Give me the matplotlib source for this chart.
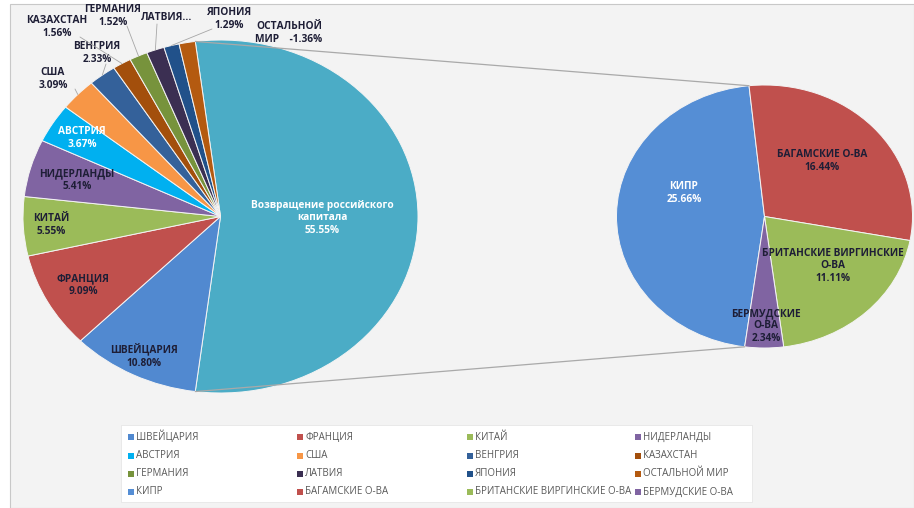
import numpy as np
import matplotlib
matplotlib.use("Agg")
import matplotlib.pyplot as plt
from matplotlib.patches import Rectangle, ConnectionPatch

plt.rcParams["font.family"] = ["Open Sans", "DejaVu Sans"]

# ---- data -------------------------------------------------------------
countries = ["ШВЕЙЦАРИЯ", "ФРАНЦИЯ", "КИТАЙ", "НИДЕРЛАНДЫ", "АВСТРИЯ", "США",
             "ВЕНГРИЯ", "КАЗАХСТАН", "ГЕРМАНИЯ", "ЛАТВИЯ", "ЯПОНИЯ",
             "ОСТАЛЬНОЙ МИР"]
country_shares = [10.80, 9.09, 5.55, 5.41, 3.67, 3.09,
                  2.33, 1.56, 1.52, 1.50, 1.29, -1.36]

offshore = ["КИПР", "БАГАМСКИЕ О-ВА", "БРИТАНСКИЕ ВИРГИНСКИЕ О-ВА",
            "БЕРМУДСКИЕ О-ВА"]
offshore_shares = [25.66, 16.44, 11.11, 2.34]

return_label = "Возвращение российского\nкапитала"
return_share = round(sum(offshore_shares), 2)

# ---- colours ----------------------------------------------------------
return_color = "#4BACC6"
country_colors = ["#5189D0", "#C0504D", "#9BBB59", "#8064A2", "#00B0F0",
                  "#F79646", "#34619A", "#A34F0C", "#77933C", "#3B2F52",
                  "#21518A", "#B45A10"]
offshore_colors = ["#558ED5", "#C0504D", "#9BBB59", "#8064A2"]

DARK = "#1E1E36"
W, H = 914, 508

fig = plt.figure(figsize=(W / 100, H / 100), dpi=100, facecolor="white")

# chart area background
fig.add_artist(Rectangle((10 / W, 0), (W - 10) / W, (H - 4) / H,
                         transform=fig.transFigure, facecolor="#F3F3F3",
                         edgecolor="#C8C8C8", linewidth=0.8, zorder=0))


def add_pie_axes(cx, cy, rx, ry):
    ax = fig.add_axes([(cx - rx) / W, (H - cy - ry) / H, 2 * rx / W, 2 * ry / H])
    ax.set_facecolor("none")
    return ax, (cx, cy, rx, ry)


def to_data(geom, px, py):
    cx, cy, rx, ry = geom
    return (px - cx) / rx, (cy - py) / ry


# ---- main pie ---------------------------------------------------------
ax1, g1 = add_pie_axes(220.5, 216.5, 197.5, 176.5)
main_values = [return_share] + country_shares
main_sizes = np.abs(main_values)
main_colors = [return_color] + country_colors
theta_ret = main_sizes[0] / main_sizes.sum() * 360.0
wedges1, _ = ax1.pie(main_sizes, colors=main_colors, startangle=theta_ret / 2,
                     counterclock=False, radius=1.0,
                     wedgeprops=dict(edgecolor="#F4F4F4", linewidth=0.7))
ax1.set_xlim(-1, 1)
ax1.set_ylim(-1, 1)
ax1.set_aspect("auto")

# ---- secondary pie ----------------------------------------------------
ax2, g2 = add_pie_axes(764.5, 216.5, 148, 131.5)
kipr_angle = offshore_shares[0] / sum(offshore_shares) * 360.0
top_edge = 96.0
wedges2, _ = ax2.pie(offshore_shares, colors=offshore_colors,
                     startangle=top_edge + kipr_angle, counterclock=False,
                     radius=1.0,
                     wedgeprops=dict(edgecolor="#F4F4F4", linewidth=0.7))
ax2.set_xlim(-1, 1)
ax2.set_ylim(-1, 1)
ax2.set_aspect("auto")

# connector lines between the pies
bottom_edge = top_edge + kipr_angle - 360.0
for a_main, a_sec in [(theta_ret / 2, top_edge), (-theta_ret / 2, bottom_edge)]:
    con = ConnectionPatch(
        xyA=(np.cos(np.radians(a_main)), np.sin(np.radians(a_main))),
        coordsA=ax1.transData,
        xyB=(np.cos(np.radians(a_sec)), np.sin(np.radians(a_sec))),
        coordsB=ax2.transData, color="#A9A9A9", linewidth=0.9)
    fig.add_artist(con)

# ---- data labels ------------------------------------------------------
label_font = dict(fontsize=7.3, fontweight="bold", ha="center", va="center",
                  linespacing=1.2)

ax1.text(*to_data(g1, 322, 218), f"{return_label}\n{return_share:.2f}%",
         color="white", **label_font)

main_label_pos = {
    "ШВЕЙЦАРИЯ": (144, 356), "ФРАНЦИЯ": (83, 285), "КИТАЙ": (51, 225),
    "НИДЕРЛАНДЫ": (77, 180), "АВСТРИЯ": (82, 138), "США": (53, 79),
    "ВЕНГРИЯ": (97, 53), "КАЗАХСТАН": (57, 27), "ГЕРМАНИЯ": (113, 16),
    "ЛАТВИЯ": (167, 18), "ЯПОНИЯ": (229, 19), "ОСТАЛЬНОЙ МИР": (289, 33),
}
leader_start = {
    "США": (75, 89), "ВЕНГРИЯ": (106, 64), "КАЗАХСТАН": (80, 37),
    "ГЕРМАНИЯ": (127, 26), "ЛАТВИЯ": (157, 24), "ЯПОНИЯ": (212, 29),
}

for name, val, wedge in zip(countries, country_shares, wedges1[1:]):
    if name == "ЛАТВИЯ":
        text = "ЛАТВИЯ..."
    elif name == "ОСТАЛЬНОЙ МИР":
        text = f"ОСТАЛЬНОЙ\nМИР    {val:.2f}%"
    else:
        text = f"{name}\n{val:.2f}%"
    color = "white" if name == "АВСТРИЯ" else DARK
    ax1.text(*to_data(g1, *main_label_pos[name]), text, color=color,
             **label_font)
    if name in leader_start:
        mid = np.radians((wedge.theta1 + wedge.theta2) / 2)
        ax1.annotate("", xy=(np.cos(mid), np.sin(mid)),
                     xytext=to_data(g1, *leader_start[name]),
                     arrowprops=dict(arrowstyle="-", color="#A6A6A6",
                                     linewidth=0.6, shrinkA=0, shrinkB=0),
                     annotation_clip=False)

sec_labels = {
    "КИПР": ("КИПР", (684, 193), "white"),
    "БАГАМСКИЕ О-ВА": ("БАГАМСКИЕ О-ВА", (822, 161), DARK),
    "БРИТАНСКИЕ ВИРГИНСКИЕ О-ВА": ("БРИТАНСКИЕ ВИРГИНСКИЕ\nО-ВА", (833, 266), DARK),
    "БЕРМУДСКИЕ О-ВА": ("БЕРМУДСКИЕ\nО-ВА", (766, 326), DARK),
}
for name, val in zip(offshore, offshore_shares):
    text, pos, color = sec_labels[name]
    ax2.text(*to_data(g2, *pos), f"{text}\n{val:.2f}%", color=color,
             **label_font)

# ---- legend -----------------------------------------------------------
fig.add_artist(Rectangle((121 / W, (H - 502) / H), 631 / W, 77 / H,
                         transform=fig.transFigure, facecolor="white",
                         edgecolor="#E6E6E6", linewidth=0.6, zorder=1))
legend_names = countries + offshore
legend_colors = country_colors + offshore_colors
col_x = [131, 300, 470, 638]
row_y = [437, 456, 474, 492]
for i, (name, color) in enumerate(zip(legend_names, legend_colors)):
    r, c = divmod(i, 4)
    x, y = col_x[c], row_y[r]
    fig.add_artist(Rectangle(((x - 3) / W, (H - y - 3) / H), 6 / W, 6 / H,
                             transform=fig.transFigure, facecolor=color,
                             edgecolor="none", zorder=2))
    fig.text((x + 5) / W, (H - y) / H, name, fontsize=7, color="#595959",
             ha="left", va="center", zorder=3)

fig.savefig("out.png", dpi=100, facecolor=fig.get_facecolor())
